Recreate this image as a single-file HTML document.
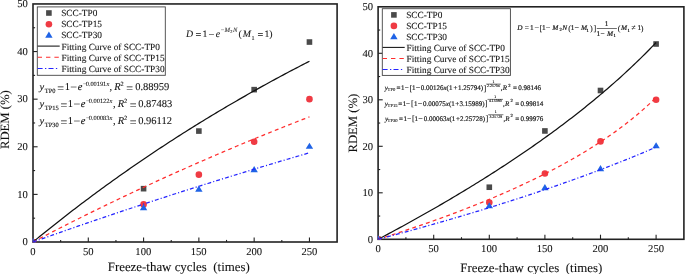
<!DOCTYPE html>
<html><head><meta charset="utf-8"><style>
html,body{margin:0;padding:0;background:#fff;width:685px;height:274px;overflow:hidden}
svg{display:block;font-family:"Liberation Serif", serif;text-rendering:geometricPrecision;will-change:transform;stroke-width:0.08px}
text{fill:#111;stroke:#111}
</style></head><body>
<svg width="685" height="274" viewBox="0 0 685 274">
<clipPath id="cl"><rect x="32.50" y="3.95" width="304.60" height="238.55"/></clipPath>
<rect x="33.00" y="3.95" width="304.10" height="238.05" fill="none" stroke="#222" stroke-width="1.6"/>
<g clip-path="url(#cl)">
<rect x="30.20" y="239.20" width="5.6" height="5.6" fill="#4a4a4a"/>
<rect x="140.78" y="185.88" width="5.6" height="5.6" fill="#4a4a4a"/>
<rect x="196.07" y="128.27" width="5.6" height="5.6" fill="#4a4a4a"/>
<rect x="251.36" y="86.85" width="5.6" height="5.6" fill="#4a4a4a"/>
<rect x="306.65" y="39.24" width="5.6" height="5.6" fill="#4a4a4a"/>
<circle cx="33.00" cy="242.00" r="3.3" fill="#ef3b44"/>
<circle cx="143.58" cy="204.39" r="3.3" fill="#ef3b44"/>
<circle cx="198.87" cy="174.63" r="3.3" fill="#ef3b44"/>
<circle cx="254.16" cy="141.78" r="3.3" fill="#ef3b44"/>
<circle cx="309.45" cy="99.17" r="3.3" fill="#ef3b44"/>
<path d="M33.00,237.87 L36.70,244.07 L29.30,244.07Z" fill="#1f63e6"/>
<path d="M143.58,204.06 L147.28,210.26 L139.88,210.26Z" fill="#1f63e6"/>
<path d="M198.87,185.50 L202.57,191.70 L195.17,191.70Z" fill="#1f63e6"/>
<path d="M254.16,165.98 L257.86,172.18 L250.46,172.18Z" fill="#1f63e6"/>
<path d="M309.45,142.65 L313.15,148.85 L305.75,148.85Z" fill="#1f63e6"/>
<polyline points="33.00,242.00 35.21,240.18 37.42,238.38 39.63,236.58 41.85,234.78 44.06,232.99 46.27,231.21 48.48,229.44 50.69,227.67 52.90,225.91 55.12,224.16 57.33,222.41 59.54,220.67 61.75,218.93 63.96,217.21 66.17,215.49 68.39,213.77 70.60,212.06 72.81,210.36 75.02,208.67 77.23,206.98 79.44,205.30 81.66,203.62 83.87,201.95 86.08,200.29 88.29,198.64 90.50,196.99 92.71,195.34 94.93,193.71 97.14,192.07 99.35,190.45 101.56,188.83 103.77,187.22 105.98,185.61 108.20,184.01 110.41,182.42 112.62,180.83 114.83,179.25 117.04,177.67 119.25,176.10 121.47,174.54 123.68,172.98 125.89,171.43 128.10,169.88 130.31,168.34 132.52,166.81 134.74,165.28 136.95,163.76 139.16,162.24 141.37,160.73 143.58,159.22 145.79,157.72 148.01,156.23 150.22,154.74 152.43,153.26 154.64,151.78 156.85,150.31 159.06,148.84 161.27,147.38 163.49,145.93 165.70,144.48 167.91,143.04 170.12,141.60 172.33,140.17 174.54,138.74 176.76,137.32 178.97,135.90 181.18,134.49 183.39,133.09 185.60,131.69 187.81,130.29 190.03,128.90 192.24,127.52 194.45,126.14 196.66,124.77 198.87,123.40 201.08,122.03 203.30,120.68 205.51,119.32 207.72,117.98 209.93,116.63 212.14,115.30 214.35,113.96 216.57,112.64 218.78,111.32 220.99,110.00 223.20,108.69 225.41,107.38 227.62,106.08 229.84,104.78 232.05,103.49 234.26,102.20 236.47,100.92 238.68,99.64 240.89,98.37 243.11,97.10 245.32,95.84 247.53,94.58 249.74,93.33 251.95,92.08 254.16,90.84 256.38,89.60 258.59,88.36 260.80,87.13 263.01,85.91 265.22,84.69 267.43,83.47 269.65,82.26 271.86,81.06 274.07,79.85 276.28,78.66 278.49,77.46 280.70,76.28 282.91,75.09 285.13,73.91 287.34,72.74 289.55,71.57 291.76,70.41 293.97,69.24 296.18,68.09 298.40,66.94 300.61,65.79 302.82,64.64 305.03,63.51 307.24,62.37 309.45,61.24" fill="none" stroke="#111" stroke-width="1.25"/>
<polyline points="33.00,242.00 35.21,240.84 37.42,239.68 39.63,238.53 41.85,237.38 44.06,236.23 46.27,235.08 48.48,233.94 50.69,232.80 52.90,231.66 55.12,230.52 57.33,229.39 59.54,228.26 61.75,227.14 63.96,226.01 66.17,224.89 68.39,223.77 70.60,222.66 72.81,221.54 75.02,220.43 77.23,219.32 79.44,218.22 81.66,217.12 83.87,216.02 86.08,214.92 88.29,213.83 90.50,212.73 92.71,211.65 94.93,210.56 97.14,209.48 99.35,208.39 101.56,207.32 103.77,206.24 105.98,205.17 108.20,204.10 110.41,203.03 112.62,201.96 114.83,200.90 117.04,199.84 119.25,198.78 121.47,197.73 123.68,196.68 125.89,195.63 128.10,194.58 130.31,193.53 132.52,192.49 134.74,191.45 136.95,190.42 139.16,189.38 141.37,188.35 143.58,187.32 145.79,186.29 148.01,185.27 150.22,184.25 152.43,183.23 154.64,182.21 156.85,181.19 159.06,180.18 161.27,179.17 163.49,178.17 165.70,177.16 167.91,176.16 170.12,175.16 172.33,174.16 174.54,173.17 176.76,172.17 178.97,171.18 181.18,170.20 183.39,169.21 185.60,168.23 187.81,167.25 190.03,166.27 192.24,165.29 194.45,164.32 196.66,163.35 198.87,162.38 201.08,161.41 203.30,160.45 205.51,159.49 207.72,158.53 209.93,157.57 212.14,156.62 214.35,155.67 216.57,154.72 218.78,153.77 220.99,152.82 223.20,151.88 225.41,150.94 227.62,150.00 229.84,149.07 232.05,148.13 234.26,147.20 236.47,146.27 238.68,145.34 240.89,144.42 243.11,143.50 245.32,142.58 247.53,141.66 249.74,140.74 251.95,139.83 254.16,138.92 256.38,138.01 258.59,137.10 260.80,136.20 263.01,135.30 265.22,134.40 267.43,133.50 269.65,132.60 271.86,131.71 274.07,130.82 276.28,129.93 278.49,129.04 280.70,128.15 282.91,127.27 285.13,126.39 287.34,125.51 289.55,124.64 291.76,123.76 293.97,122.89 296.18,122.02 298.40,121.15 300.61,120.29 302.82,119.42 305.03,118.56 307.24,117.70 309.45,116.84" fill="none" stroke="#ff2d2d" stroke-width="1.25" stroke-dasharray="3.9 3.3"/>
<polyline points="33.00,242.00 35.21,241.21 37.42,240.42 39.63,239.63 41.85,238.85 44.06,238.06 46.27,237.28 48.48,236.50 50.69,235.72 52.90,234.94 55.12,234.16 57.33,233.39 59.54,232.61 61.75,231.84 63.96,231.06 66.17,230.29 68.39,229.52 70.60,228.75 72.81,227.98 75.02,227.22 77.23,226.45 79.44,225.69 81.66,224.93 83.87,224.17 86.08,223.41 88.29,222.65 90.50,221.89 92.71,221.13 94.93,220.38 97.14,219.62 99.35,218.87 101.56,218.12 103.77,217.37 105.98,216.62 108.20,215.87 110.41,215.13 112.62,214.38 114.83,213.64 117.04,212.90 119.25,212.15 121.47,211.41 123.68,210.67 125.89,209.94 128.10,209.20 130.31,208.47 132.52,207.73 134.74,207.00 136.95,206.27 139.16,205.54 141.37,204.81 143.58,204.08 145.79,203.35 148.01,202.63 150.22,201.90 152.43,201.18 154.64,200.46 156.85,199.74 159.06,199.02 161.27,198.30 163.49,197.58 165.70,196.87 167.91,196.15 170.12,195.44 172.33,194.72 174.54,194.01 176.76,193.30 178.97,192.59 181.18,191.89 183.39,191.18 185.60,190.47 187.81,189.77 190.03,189.07 192.24,188.37 194.45,187.66 196.66,186.97 198.87,186.27 201.08,185.57 203.30,184.87 205.51,184.18 207.72,183.48 209.93,182.79 212.14,182.10 214.35,181.41 216.57,180.72 218.78,180.03 220.99,179.35 223.20,178.66 225.41,177.98 227.62,177.29 229.84,176.61 232.05,175.93 234.26,175.25 236.47,174.57 238.68,173.89 240.89,173.22 243.11,172.54 245.32,171.87 247.53,171.19 249.74,170.52 251.95,169.85 254.16,169.18 256.38,168.51 258.59,167.84 260.80,167.18 263.01,166.51 265.22,165.85 267.43,165.18 269.65,164.52 271.86,163.86 274.07,163.20 276.28,162.54 278.49,161.88 280.70,161.22 282.91,160.57 285.13,159.91 287.34,159.26 289.55,158.61 291.76,157.96 293.97,157.31 296.18,156.66 298.40,156.01 300.61,155.36 302.82,154.72 305.03,154.07 307.24,153.43 309.45,152.79" fill="none" stroke="#2424ff" stroke-width="1.25" stroke-dasharray="3.9 2.1 1.1 2.1"/>
</g>
<line x1="60.65" y1="242.00" x2="60.65" y2="239.90" stroke="#222" stroke-width="1.1"/>
<line x1="88.29" y1="242.00" x2="88.29" y2="237.40" stroke="#222" stroke-width="1.1"/>
<line x1="115.94" y1="242.00" x2="115.94" y2="239.90" stroke="#222" stroke-width="1.1"/>
<line x1="143.58" y1="242.00" x2="143.58" y2="237.40" stroke="#222" stroke-width="1.1"/>
<line x1="171.23" y1="242.00" x2="171.23" y2="239.90" stroke="#222" stroke-width="1.1"/>
<line x1="198.87" y1="242.00" x2="198.87" y2="237.40" stroke="#222" stroke-width="1.1"/>
<line x1="226.52" y1="242.00" x2="226.52" y2="239.90" stroke="#222" stroke-width="1.1"/>
<line x1="254.16" y1="242.00" x2="254.16" y2="237.40" stroke="#222" stroke-width="1.1"/>
<line x1="281.81" y1="242.00" x2="281.81" y2="239.90" stroke="#222" stroke-width="1.1"/>
<line x1="309.45" y1="242.00" x2="309.45" y2="237.40" stroke="#222" stroke-width="1.1"/>
<line x1="33.00" y1="218.19" x2="35.10" y2="218.19" stroke="#222" stroke-width="1.1"/>
<line x1="33.00" y1="194.39" x2="37.60" y2="194.39" stroke="#222" stroke-width="1.1"/>
<line x1="33.00" y1="170.58" x2="35.10" y2="170.58" stroke="#222" stroke-width="1.1"/>
<line x1="33.00" y1="146.78" x2="37.60" y2="146.78" stroke="#222" stroke-width="1.1"/>
<line x1="33.00" y1="122.97" x2="35.10" y2="122.97" stroke="#222" stroke-width="1.1"/>
<line x1="33.00" y1="99.17" x2="37.60" y2="99.17" stroke="#222" stroke-width="1.1"/>
<line x1="33.00" y1="75.37" x2="35.10" y2="75.37" stroke="#222" stroke-width="1.1"/>
<line x1="33.00" y1="51.56" x2="37.60" y2="51.56" stroke="#222" stroke-width="1.1"/>
<line x1="33.00" y1="27.75" x2="35.10" y2="27.75" stroke="#222" stroke-width="1.1"/>
<text x="30.35" y="255.10" font-size="10.6" stroke-width="0.08">0</text>
<text x="82.88" y="255.10" font-size="10.6" stroke-width="0.08">50</text>
<text x="135.37" y="255.10" font-size="10.6" stroke-width="0.08">100</text>
<text x="190.66" y="255.10" font-size="10.6" stroke-width="0.08">150</text>
<text x="246.18" y="255.10" font-size="10.6" stroke-width="0.08">200</text>
<text x="301.47" y="255.10" font-size="10.6" stroke-width="0.08">250</text>
<text x="22.60" y="245.30" font-size="10.6" stroke-width="0.08">0</text>
<text x="17.30" y="197.69" font-size="10.6" stroke-width="0.08">10</text>
<text x="17.30" y="150.08" font-size="10.6" stroke-width="0.08">20</text>
<text x="17.30" y="102.47" font-size="10.6" stroke-width="0.08">30</text>
<text x="17.30" y="54.86" font-size="10.6" stroke-width="0.08">40</text>
<text x="17.30" y="7.25" font-size="10.6" stroke-width="0.08">50</text>
<clipPath id="cr"><rect x="377.60" y="6.80" width="306.30" height="233.00"/></clipPath>
<rect x="378.10" y="6.80" width="305.80" height="232.50" fill="none" stroke="#222" stroke-width="1.6"/>
<g clip-path="url(#cr)">
<rect x="375.30" y="236.50" width="5.6" height="5.6" fill="#4a4a4a"/>
<rect x="486.50" y="184.42" width="5.6" height="5.6" fill="#4a4a4a"/>
<rect x="542.10" y="128.15" width="5.6" height="5.6" fill="#4a4a4a"/>
<rect x="597.70" y="87.70" width="5.6" height="5.6" fill="#4a4a4a"/>
<rect x="653.30" y="41.20" width="5.6" height="5.6" fill="#4a4a4a"/>
<circle cx="378.10" cy="239.30" r="3.3" fill="#ef3b44"/>
<circle cx="489.30" cy="202.56" r="3.3" fill="#ef3b44"/>
<circle cx="544.90" cy="173.50" r="3.3" fill="#ef3b44"/>
<circle cx="600.50" cy="141.42" r="3.3" fill="#ef3b44"/>
<circle cx="656.10" cy="99.80" r="3.3" fill="#ef3b44"/>
<path d="M378.10,235.17 L381.80,241.37 L374.40,241.37Z" fill="#1f63e6"/>
<path d="M489.30,202.15 L493.00,208.35 L485.60,208.35Z" fill="#1f63e6"/>
<path d="M544.90,184.02 L548.60,190.22 L541.20,190.22Z" fill="#1f63e6"/>
<path d="M600.50,164.95 L604.20,171.15 L596.80,171.15Z" fill="#1f63e6"/>
<path d="M656.10,142.17 L659.80,148.37 L652.40,148.37Z" fill="#1f63e6"/>
<polyline points="378.10,239.30 380.32,238.13 382.55,236.95 384.77,235.77 387.00,234.58 389.22,233.39 391.44,232.20 393.67,231.00 395.89,229.80 398.12,228.60 400.34,227.39 402.56,226.18 404.79,224.96 407.01,223.74 409.24,222.51 411.46,221.29 413.68,220.05 415.91,218.81 418.13,217.57 420.36,216.32 422.58,215.07 424.80,213.82 427.03,212.56 429.25,211.29 431.48,210.02 433.70,208.75 435.92,207.47 438.15,206.19 440.37,204.90 442.60,203.61 444.82,202.31 447.04,201.00 449.27,199.70 451.49,198.38 453.72,197.07 455.94,195.74 458.16,194.41 460.39,193.08 462.61,191.74 464.84,190.39 467.06,189.04 469.28,187.69 471.51,186.33 473.73,184.96 475.96,183.59 478.18,182.21 480.40,180.82 482.63,179.43 484.85,178.04 487.08,176.63 489.30,175.22 491.52,173.81 493.75,172.39 495.97,170.96 498.20,169.52 500.42,168.08 502.64,166.64 504.87,165.18 507.09,163.72 509.32,162.25 511.54,160.78 513.76,159.29 515.99,157.81 518.21,156.31 520.44,154.80 522.66,153.29 524.88,151.77 527.11,150.25 529.33,148.71 531.56,147.17 533.78,145.62 536.00,144.06 538.23,142.49 540.45,140.91 542.68,139.33 544.90,137.74 547.12,136.13 549.35,134.52 551.57,132.90 553.80,131.27 556.02,129.63 558.24,127.99 560.47,126.33 562.69,124.66 564.92,122.98 567.14,121.29 569.36,119.59 571.59,117.89 573.81,116.17 576.04,114.43 578.26,112.69 580.48,110.94 582.71,109.17 584.93,107.40 587.16,105.61 589.38,103.81 591.60,101.99 593.83,100.17 596.05,98.33 598.28,96.48 600.50,94.61 602.72,92.73 604.95,90.84 607.17,88.93 609.40,87.00 611.62,85.07 613.84,83.11 616.07,81.14 618.29,79.16 620.52,77.16 622.74,75.14 624.96,73.11 627.19,71.05 629.41,68.98 631.64,66.89 633.86,64.78 636.08,62.66 638.31,60.51 640.53,58.34 642.76,56.15 644.98,53.94 647.20,51.71 649.43,49.45 651.65,47.17 653.88,44.87 656.10,42.54" fill="none" stroke="#111" stroke-width="1.25"/>
<polyline points="378.10,239.30 380.32,238.60 382.55,237.90 384.77,237.19 387.00,236.48 389.22,235.77 391.44,235.05 393.67,234.33 395.89,233.61 398.12,232.88 400.34,232.15 402.56,231.42 404.79,230.68 407.01,229.94 409.24,229.19 411.46,228.44 413.68,227.69 415.91,226.93 418.13,226.17 420.36,225.41 422.58,224.64 424.80,223.86 427.03,223.08 429.25,222.30 431.48,221.51 433.70,220.72 435.92,219.93 438.15,219.13 440.37,218.32 442.60,217.51 444.82,216.70 447.04,215.88 449.27,215.06 451.49,214.23 453.72,213.39 455.94,212.56 458.16,211.71 460.39,210.86 462.61,210.01 464.84,209.15 467.06,208.29 469.28,207.42 471.51,206.54 473.73,205.66 475.96,204.77 478.18,203.88 480.40,202.98 482.63,202.07 484.85,201.16 487.08,200.25 489.30,199.32 491.52,198.39 493.75,197.46 495.97,196.51 498.20,195.56 500.42,194.61 502.64,193.64 504.87,192.67 507.09,191.70 509.32,190.71 511.54,189.72 513.76,188.72 515.99,187.71 518.21,186.70 520.44,185.67 522.66,184.64 524.88,183.60 527.11,182.55 529.33,181.50 531.56,180.43 533.78,179.36 536.00,178.27 538.23,177.18 540.45,176.08 542.68,174.97 544.90,173.85 547.12,172.71 549.35,171.57 551.57,170.42 553.80,169.26 556.02,168.08 558.24,166.90 560.47,165.70 562.69,164.49 564.92,163.27 567.14,162.04 569.36,160.80 571.59,159.54 573.81,158.27 576.04,156.98 578.26,155.69 580.48,154.37 582.71,153.05 584.93,151.71 587.16,150.35 589.38,148.98 591.60,147.59 593.83,146.19 596.05,144.76 598.28,143.32 600.50,141.87 602.72,140.39 604.95,138.90 607.17,137.38 609.40,135.85 611.62,134.29 613.84,132.72 616.07,131.12 618.29,129.49 620.52,127.85 622.74,126.18 624.96,124.48 627.19,122.76 629.41,121.01 631.64,119.23 633.86,117.43 636.08,115.59 638.31,113.72 640.53,111.81 642.76,109.88 644.98,107.90 647.20,105.89 649.43,103.84 651.65,101.75 653.88,99.62 656.10,97.44" fill="none" stroke="#ff2d2d" stroke-width="1.25" stroke-dasharray="3.9 3.3"/>
<polyline points="378.10,239.30 380.32,238.71 382.55,238.12 384.77,237.53 387.00,236.94 389.22,236.35 391.44,235.75 393.67,235.16 395.89,234.56 398.12,233.96 400.34,233.36 402.56,232.75 404.79,232.15 407.01,231.54 409.24,230.93 411.46,230.32 413.68,229.70 415.91,229.09 418.13,228.47 420.36,227.85 422.58,227.23 424.80,226.61 427.03,225.99 429.25,225.36 431.48,224.73 433.70,224.10 435.92,223.47 438.15,222.83 440.37,222.20 442.60,221.56 444.82,220.92 447.04,220.27 449.27,219.63 451.49,218.98 453.72,218.33 455.94,217.68 458.16,217.03 460.39,216.37 462.61,215.71 464.84,215.05 467.06,214.39 469.28,213.73 471.51,213.06 473.73,212.39 475.96,211.72 478.18,211.05 480.40,210.37 482.63,209.69 484.85,209.01 487.08,208.33 489.30,207.64 491.52,206.95 493.75,206.26 495.97,205.57 498.20,204.87 500.42,204.18 502.64,203.47 504.87,202.77 507.09,202.06 509.32,201.36 511.54,200.64 513.76,199.93 515.99,199.21 518.21,198.49 520.44,197.77 522.66,197.05 524.88,196.32 527.11,195.59 529.33,194.86 531.56,194.12 533.78,193.38 536.00,192.64 538.23,191.89 540.45,191.14 542.68,190.39 544.90,189.64 547.12,188.88 549.35,188.12 551.57,187.35 553.80,186.59 556.02,185.82 558.24,185.04 560.47,184.27 562.69,183.49 564.92,182.70 567.14,181.92 569.36,181.13 571.59,180.33 573.81,179.53 576.04,178.73 578.26,177.93 580.48,177.12 582.71,176.31 584.93,175.49 587.16,174.67 589.38,173.85 591.60,173.02 593.83,172.19 596.05,171.36 598.28,170.52 600.50,169.67 602.72,168.83 604.95,167.98 607.17,167.12 609.40,166.26 611.62,165.40 613.84,164.53 616.07,163.66 618.29,162.78 620.52,161.90 622.74,161.01 624.96,160.12 627.19,159.23 629.41,158.33 631.64,157.42 633.86,156.51 636.08,155.60 638.31,154.68 640.53,153.75 642.76,152.82 644.98,151.89 647.20,150.95 649.43,150.00 651.65,149.05 653.88,148.10 656.10,147.14" fill="none" stroke="#2424ff" stroke-width="1.25" stroke-dasharray="3.9 2.1 1.1 2.1"/>
</g>
<line x1="405.90" y1="239.30" x2="405.90" y2="237.20" stroke="#222" stroke-width="1.1"/>
<line x1="433.70" y1="239.30" x2="433.70" y2="234.70" stroke="#222" stroke-width="1.1"/>
<line x1="461.50" y1="239.30" x2="461.50" y2="237.20" stroke="#222" stroke-width="1.1"/>
<line x1="489.30" y1="239.30" x2="489.30" y2="234.70" stroke="#222" stroke-width="1.1"/>
<line x1="517.10" y1="239.30" x2="517.10" y2="237.20" stroke="#222" stroke-width="1.1"/>
<line x1="544.90" y1="239.30" x2="544.90" y2="234.70" stroke="#222" stroke-width="1.1"/>
<line x1="572.70" y1="239.30" x2="572.70" y2="237.20" stroke="#222" stroke-width="1.1"/>
<line x1="600.50" y1="239.30" x2="600.50" y2="234.70" stroke="#222" stroke-width="1.1"/>
<line x1="628.30" y1="239.30" x2="628.30" y2="237.20" stroke="#222" stroke-width="1.1"/>
<line x1="656.10" y1="239.30" x2="656.10" y2="234.70" stroke="#222" stroke-width="1.1"/>
<line x1="378.10" y1="216.05" x2="380.20" y2="216.05" stroke="#222" stroke-width="1.1"/>
<line x1="378.10" y1="192.80" x2="382.70" y2="192.80" stroke="#222" stroke-width="1.1"/>
<line x1="378.10" y1="169.55" x2="380.20" y2="169.55" stroke="#222" stroke-width="1.1"/>
<line x1="378.10" y1="146.30" x2="382.70" y2="146.30" stroke="#222" stroke-width="1.1"/>
<line x1="378.10" y1="123.05" x2="380.20" y2="123.05" stroke="#222" stroke-width="1.1"/>
<line x1="378.10" y1="99.80" x2="382.70" y2="99.80" stroke="#222" stroke-width="1.1"/>
<line x1="378.10" y1="76.55" x2="380.20" y2="76.55" stroke="#222" stroke-width="1.1"/>
<line x1="378.10" y1="53.30" x2="382.70" y2="53.30" stroke="#222" stroke-width="1.1"/>
<line x1="378.10" y1="30.05" x2="380.20" y2="30.05" stroke="#222" stroke-width="1.1"/>
<text x="375.45" y="252.40" font-size="10.6" stroke-width="0.08">0</text>
<text x="428.29" y="252.40" font-size="10.6" stroke-width="0.08">50</text>
<text x="481.09" y="252.40" font-size="10.6" stroke-width="0.08">100</text>
<text x="536.69" y="252.40" font-size="10.6" stroke-width="0.08">150</text>
<text x="592.52" y="252.40" font-size="10.6" stroke-width="0.08">200</text>
<text x="648.12" y="252.40" font-size="10.6" stroke-width="0.08">250</text>
<text x="367.70" y="242.60" font-size="10.6" stroke-width="0.08">0</text>
<text x="362.40" y="196.10" font-size="10.6" stroke-width="0.08">10</text>
<text x="362.40" y="149.60" font-size="10.6" stroke-width="0.08">20</text>
<text x="362.40" y="103.10" font-size="10.6" stroke-width="0.08">30</text>
<text x="362.40" y="56.60" font-size="10.6" stroke-width="0.08">40</text>
<text x="362.40" y="10.10" font-size="10.6" stroke-width="0.08">50</text>
<text x="107.73" y="271.20" font-size="12.9" stroke-width="0.08">Freeze-thaw cycles  (times)</text>
<text transform="translate(8.70,119.60) rotate(-90)" text-anchor="middle" font-size="12.7">RDEM (%)</text>
<text x="460.23" y="271.60" font-size="12.9" stroke-width="0.08">Freeze-thaw cycles  (times)</text>
<text transform="translate(357.10,123.10) rotate(-90)" text-anchor="middle" font-size="12.7">RDEM (%)</text>
<rect x="37.30" y="6.90" width="128.00" height="68.40" fill="#fff" stroke="#444" stroke-width="0.9"/>
<rect x="46.10" y="10.20" width="5.6" height="5.6" fill="#4a4a4a"/>
<text x="61.18" y="16.00" font-size="9.3" stroke-width="0.08">SCC-TP0</text>
<circle cx="48.90" cy="24.20" r="3.3" fill="#ef3b44"/>
<text x="61.18" y="27.20" font-size="9.3" stroke-width="0.08">SCC-TP15</text>
<path d="M48.90,31.57 L52.60,37.77 L45.20,37.77Z" fill="#1f63e6"/>
<text x="61.18" y="38.40" font-size="9.3" stroke-width="0.08">SCC-TP30</text>
<line x1="37.60" y1="46.10" x2="59.70" y2="46.10" stroke="#111" stroke-width="1.05"/>
<text x="61.53" y="49.60" font-size="9.3" stroke-width="0.08">Fitting Curve of SCC-TP0</text>
<line x1="37.60" y1="57.30" x2="58.90" y2="57.30" stroke="#ff2d2d" stroke-width="1.05" stroke-dasharray="4.4 4"/>
<text x="61.53" y="60.80" font-size="9.3" stroke-width="0.08">Fitting Curve of SCC-TP15</text>
<line x1="37.60" y1="68.50" x2="58.90" y2="68.50" stroke="#2424ff" stroke-width="1.05" stroke-dasharray="5 2.4 1.3 2.2"/>
<text x="61.53" y="72.00" font-size="9.3" stroke-width="0.08">Fitting Curve of SCC-TP30</text>
<rect x="382.30" y="8.70" width="128.10" height="66.70" fill="#fff" stroke="#444" stroke-width="0.9"/>
<rect x="391.10" y="12.10" width="5.6" height="5.6" fill="#4a4a4a"/>
<text x="406.18" y="17.90" font-size="9.3" stroke-width="0.08">SCC-TP0</text>
<circle cx="393.90" cy="25.90" r="3.3" fill="#ef3b44"/>
<text x="406.18" y="28.90" font-size="9.3" stroke-width="0.08">SCC-TP15</text>
<path d="M393.90,33.07 L397.60,39.27 L390.20,39.27Z" fill="#1f63e6"/>
<text x="406.18" y="39.90" font-size="9.3" stroke-width="0.08">SCC-TP30</text>
<line x1="382.60" y1="47.40" x2="404.70" y2="47.40" stroke="#111" stroke-width="1.05"/>
<text x="406.53" y="50.90" font-size="9.3" stroke-width="0.08">Fitting Curve of SCC-TP0</text>
<line x1="382.60" y1="58.40" x2="403.90" y2="58.40" stroke="#ff2d2d" stroke-width="1.05" stroke-dasharray="4.4 4"/>
<text x="406.53" y="61.90" font-size="9.3" stroke-width="0.08">Fitting Curve of SCC-TP15</text>
<line x1="382.60" y1="69.40" x2="403.90" y2="69.40" stroke="#2424ff" stroke-width="1.05" stroke-dasharray="5 2.4 1.3 2.2"/>
<text x="406.53" y="72.90" font-size="9.3" stroke-width="0.08">Fitting Curve of SCC-TP30</text>
<text x="186.01" y="36.60" font-size="9.8" font-style="italic" stroke-width="0.08">D</text>
<text x="195.59" y="37.60" font-size="10.2" stroke-width="0.08">=</text>
<text x="202.56" y="36.60" font-size="9.8" stroke-width="0.08">1</text>
<text x="208.48" y="37.70" font-size="10.5" stroke-width="0.08">−</text>
<text x="215.80" y="36.60" font-size="9.8" font-style="italic" stroke-width="0.08">e</text>
<text x="220.69" y="32.10" font-size="6.3" stroke-width="0.06">−</text>
<text x="224.58" y="31.90" font-size="6.6" font-style="italic" stroke-width="0.06">M</text>
<text x="230.21" y="33.40" font-size="4.4" stroke-width="0.08">2</text>
<text x="233.05" y="31.90" font-size="6.6" font-style="italic" stroke-width="0.06">N</text>
<text x="238.57" y="36.60" font-size="9.8" stroke-width="0.08">(</text>
<text x="242.71" y="36.60" font-size="9.8" font-style="italic" stroke-width="0.08">M</text>
<text x="251.57" y="39.50" font-size="6.0" stroke-width="0.08">1</text>
<text x="257.59" y="37.80" font-size="10.2" stroke-width="0.08">=</text>
<text x="264.51" y="36.60" font-size="9.8" stroke-width="0.08">1</text>
<text x="269.28" y="36.60" font-size="9.8" stroke-width="0.08">)</text>
<text x="39.58" y="90.00" font-size="10.5" font-style="italic" stroke-width="0.08">y</text>
<text x="44.68" y="92.80" font-size="6.5" stroke-width="0.14">TP0</text>
<text x="57.30" y="91.60" font-size="12" stroke-width="0.08">=</text>
<text x="64.68" y="90.00" font-size="10.5" stroke-width="0.08">1</text>
<text x="70.36" y="90.80" font-size="12" stroke-width="0.08">−</text>
<text x="77.68" y="90.00" font-size="10.5" font-style="italic" stroke-width="0.08">e</text>
<text x="82.99" y="85.70" font-size="6.3" stroke-width="0.08">−</text>
<text x="85.76" y="85.70" font-size="6.3" stroke-width="0.08">0.00191</text>
<text x="106.38" y="85.70" font-size="6.3" font-style="italic" stroke-width="0.08">x</text>
<text x="109.40" y="90.00" font-size="10.5" stroke-width="0.08">,</text>
<text x="114.26" y="90.00" font-size="10.5" font-style="italic" stroke-width="0.08">R</text>
<text x="120.52" y="85.70" font-size="6.3" stroke-width="0.1">2</text>
<text x="126.20" y="91.60" font-size="12" stroke-width="0.08">=</text>
<text x="135.20" y="90.00" font-size="10.5" stroke-width="0.08">0.88959</text>
<text x="39.58" y="107.00" font-size="10.5" font-style="italic" stroke-width="0.08">y</text>
<text x="44.68" y="109.80" font-size="6.5" stroke-width="0.14">TP15</text>
<text x="60.40" y="108.60" font-size="12" stroke-width="0.08">=</text>
<text x="67.78" y="107.00" font-size="10.5" stroke-width="0.08">1</text>
<text x="73.46" y="107.80" font-size="12" stroke-width="0.08">−</text>
<text x="80.78" y="107.00" font-size="10.5" font-style="italic" stroke-width="0.08">e</text>
<text x="86.09" y="102.70" font-size="6.3" stroke-width="0.08">−</text>
<text x="88.86" y="102.70" font-size="6.3" stroke-width="0.08">0.00122</text>
<text x="109.48" y="102.70" font-size="6.3" font-style="italic" stroke-width="0.08">x</text>
<text x="112.90" y="107.00" font-size="10.5" stroke-width="0.08">,</text>
<text x="117.76" y="107.00" font-size="10.5" font-style="italic" stroke-width="0.08">R</text>
<text x="124.02" y="102.70" font-size="6.3" stroke-width="0.1">2</text>
<text x="129.70" y="108.60" font-size="12" stroke-width="0.08">=</text>
<text x="138.20" y="107.00" font-size="10.5" stroke-width="0.08">0.87483</text>
<text x="39.58" y="124.00" font-size="10.5" font-style="italic" stroke-width="0.08">y</text>
<text x="44.68" y="126.80" font-size="6.5" stroke-width="0.14">TP30</text>
<text x="60.40" y="125.60" font-size="12" stroke-width="0.08">=</text>
<text x="67.78" y="124.00" font-size="10.5" stroke-width="0.08">1</text>
<text x="73.46" y="124.80" font-size="12" stroke-width="0.08">−</text>
<text x="80.78" y="124.00" font-size="10.5" font-style="italic" stroke-width="0.08">e</text>
<text x="86.09" y="119.70" font-size="6.3" stroke-width="0.08">−</text>
<text x="88.86" y="119.70" font-size="6.3" stroke-width="0.08">0.00083</text>
<text x="109.48" y="119.70" font-size="6.3" font-style="italic" stroke-width="0.08">x</text>
<text x="112.90" y="124.00" font-size="10.5" stroke-width="0.08">,</text>
<text x="117.76" y="124.00" font-size="10.5" font-style="italic" stroke-width="0.08">R</text>
<text x="124.02" y="119.70" font-size="6.3" stroke-width="0.1">2</text>
<text x="129.70" y="125.60" font-size="12" stroke-width="0.08">=</text>
<text x="138.20" y="124.00" font-size="10.5" stroke-width="0.08">0.96112</text>
<text x="517.28" y="29.90" font-size="7.3" font-style="italic" stroke-width="0.17">D</text>
<text x="524.74" y="30.20" font-size="7.3" stroke-width="0.17">=</text>
<text x="529.92" y="29.90" font-size="7.3" stroke-width="0.17">1</text>
<text x="534.39" y="30.20" font-size="8.2" stroke-width="0.08">−</text>
<text x="539.39" y="30.50" font-size="8.2" stroke-width="0.08">[</text>
<text x="542.06" y="29.90" font-size="7.3" stroke-width="0.17">1</text>
<text x="545.79" y="30.20" font-size="8.2" stroke-width="0.08">−</text>
<text x="552.29" y="29.90" font-size="7.3" font-style="italic" stroke-width="0.17">M</text>
<text x="559.60" y="31.40" font-size="4.6" stroke-width="0.2">2</text>
<text x="562.35" y="29.90" font-size="7.3" font-style="italic" stroke-width="0.17">N</text>
<text x="568.34" y="30.50" font-size="8.2" stroke-width="0.08">(</text>
<text x="570.66" y="29.90" font-size="7.3" stroke-width="0.17">1</text>
<text x="574.50" y="30.20" font-size="8.0" stroke-width="0.08">−</text>
<text x="580.89" y="29.90" font-size="7.3" font-style="italic" stroke-width="0.17">M</text>
<text x="586.50" y="31.50" font-size="4.6" stroke-width="0.2">1</text>
<text x="590.04" y="30.50" font-size="8.2" stroke-width="0.08">)</text>
<text x="593.50" y="30.50" font-size="8.2" stroke-width="0.08">]</text>
<line x1="596.8" y1="28.5" x2="616.9" y2="28.5" stroke="#111" stroke-width="0.6"/>
<text x="604.77" y="25.70" font-size="7.3" stroke-width="0.17">1</text>
<text x="596.56" y="35.90" font-size="7.3" stroke-width="0.17">1</text>
<text x="600.44" y="36.20" font-size="7.3" stroke-width="0.17">−</text>
<text x="606.99" y="35.90" font-size="7.3" font-style="italic" stroke-width="0.17">M</text>
<text x="613.60" y="37.40" font-size="4.6" stroke-width="0.2">1</text>
<text x="617.64" y="30.50" font-size="8.2" stroke-width="0.08">(</text>
<text x="620.99" y="29.90" font-size="7.3" font-style="italic" stroke-width="0.17">M</text>
<text x="627.40" y="31.50" font-size="4.6" stroke-width="0.2">1</text>
<text x="631.50" y="30.10" font-size="7.3" stroke-width="0.17">≠</text>
<text x="637.42" y="29.90" font-size="7.3" stroke-width="0.17">1</text>
<text x="640.74" y="30.50" font-size="8.2" stroke-width="0.08">)</text>
<text x="384.68" y="90.20" font-size="7.0" font-style="italic" stroke-width="0.17">y</text>
<text x="387.62" y="91.40" font-size="4.6" stroke-width="0.1">TP0</text>
<text x="396.55" y="90.20" font-size="7.0" stroke-width="0.17">=</text>
<text x="400.98" y="90.20" font-size="7.0" stroke-width="0.17">1</text>
<text x="404.75" y="90.20" font-size="7.0" stroke-width="0.17">−</text>
<text x="409.58" y="90.70" font-size="8.3" stroke-width="0.08">[</text>
<text x="412.08" y="90.20" font-size="7.0" stroke-width="0.17">1</text>
<text x="415.80" y="90.40" font-size="8.0" stroke-width="0.08">−</text>
<text x="420.73" y="90.20" font-size="7.0" stroke-width="0.17">0.00126</text>
<text x="443.48" y="90.20" font-size="7.0" font-style="italic" stroke-width="0.17">x</text>
<text x="446.59" y="90.20" font-size="7.0" stroke-width="0.17">(1</text>
<text x="483.55" y="90.70" font-size="8.3" stroke-width="0.08">]</text>
<text x="458.08" y="90.20" font-size="7.0" stroke-width="0.17">1.25794)</text>
<text x="453.58" y="90.20" font-size="7.0" stroke-width="0.17">+</text>
<line x1="486.20" y1="84.10" x2="500.80" y2="84.10" stroke="#111" stroke-width="0.55"/>
<text x="492.47" y="82.50" font-size="3.9" stroke-width="0.12">1</text>
<text x="487.11" y="87.00" font-size="3.9" stroke-width="0.12">2.25794</text>
<text x="500.83" y="90.20" font-size="7.0" stroke-width="0.17">,</text>
<text x="502.84" y="90.20" font-size="7.0" font-style="italic" stroke-width="0.17">R</text>
<text x="508.20" y="86.50" font-size="4.6" stroke-width="0.2">2</text>
<text x="512.95" y="90.20" font-size="7.0" stroke-width="0.17">=</text>
<text x="518.33" y="90.20" font-size="7.0" stroke-width="0.17">0.98146</text>
<text x="384.68" y="105.50" font-size="7.0" font-style="italic" stroke-width="0.17">y</text>
<text x="387.62" y="106.70" font-size="4.6" stroke-width="0.1">TP15</text>
<text x="398.35" y="105.50" font-size="7.0" stroke-width="0.17">=</text>
<text x="402.78" y="105.50" font-size="7.0" stroke-width="0.17">1</text>
<text x="405.95" y="105.50" font-size="7.0" stroke-width="0.17">−</text>
<text x="410.98" y="106.00" font-size="8.3" stroke-width="0.08">[</text>
<text x="413.98" y="105.50" font-size="7.0" stroke-width="0.17">1</text>
<text x="417.70" y="105.70" font-size="8.0" stroke-width="0.08">−</text>
<text x="423.03" y="105.50" font-size="7.0" stroke-width="0.17">0.00075</text>
<text x="445.78" y="105.50" font-size="7.0" font-style="italic" stroke-width="0.17">x</text>
<text x="448.89" y="105.50" font-size="7.0" stroke-width="0.17">(1</text>
<text x="484.85" y="106.00" font-size="8.3" stroke-width="0.08">]</text>
<text x="459.38" y="105.50" font-size="7.0" stroke-width="0.17">3.15989)</text>
<text x="455.24" y="105.50" font-size="7.0" stroke-width="0.17">+</text>
<line x1="487.50" y1="99.40" x2="503.00" y2="99.40" stroke="#111" stroke-width="0.55"/>
<text x="494.22" y="97.80" font-size="3.9" stroke-width="0.12">1</text>
<text x="488.95" y="102.30" font-size="3.9" stroke-width="0.12">4.15989</text>
<text x="503.03" y="105.50" font-size="7.0" stroke-width="0.17">,</text>
<text x="505.04" y="105.50" font-size="7.0" font-style="italic" stroke-width="0.17">R</text>
<text x="510.40" y="101.80" font-size="4.6" stroke-width="0.2">2</text>
<text x="515.15" y="105.50" font-size="7.0" stroke-width="0.17">=</text>
<text x="520.53" y="105.50" font-size="7.0" stroke-width="0.17">0.99814</text>
<text x="384.98" y="120.80" font-size="7.0" font-style="italic" stroke-width="0.17">y</text>
<text x="387.62" y="122.00" font-size="4.6" stroke-width="0.1">TP30</text>
<text x="398.95" y="120.80" font-size="7.0" stroke-width="0.17">=</text>
<text x="403.38" y="120.80" font-size="7.0" stroke-width="0.17">1</text>
<text x="407.15" y="120.80" font-size="7.0" stroke-width="0.17">−</text>
<text x="411.88" y="121.30" font-size="8.3" stroke-width="0.08">[</text>
<text x="414.58" y="120.80" font-size="7.0" stroke-width="0.17">1</text>
<text x="418.20" y="121.00" font-size="8.0" stroke-width="0.08">−</text>
<text x="423.63" y="120.80" font-size="7.0" stroke-width="0.17">0.00063</text>
<text x="446.38" y="120.80" font-size="7.0" font-style="italic" stroke-width="0.17">x</text>
<text x="449.49" y="120.80" font-size="7.0" stroke-width="0.17">(1</text>
<text x="485.55" y="121.30" font-size="8.3" stroke-width="0.08">]</text>
<text x="460.08" y="120.80" font-size="7.0" stroke-width="0.17">2.25728)</text>
<text x="455.88" y="120.80" font-size="7.0" stroke-width="0.17">+</text>
<line x1="488.20" y1="114.70" x2="503.40" y2="114.70" stroke="#111" stroke-width="0.55"/>
<text x="494.77" y="113.10" font-size="3.9" stroke-width="0.12">1</text>
<text x="489.44" y="117.60" font-size="3.9" stroke-width="0.12">3.25728</text>
<text x="503.43" y="120.80" font-size="7.0" stroke-width="0.17">,</text>
<text x="505.24" y="120.80" font-size="7.0" font-style="italic" stroke-width="0.17">R</text>
<text x="510.60" y="117.10" font-size="4.6" stroke-width="0.2">2</text>
<text x="515.15" y="120.80" font-size="7.0" stroke-width="0.17">=</text>
<text x="520.53" y="120.80" font-size="7.0" stroke-width="0.17">0.99976</text>
</svg>
</body></html>
